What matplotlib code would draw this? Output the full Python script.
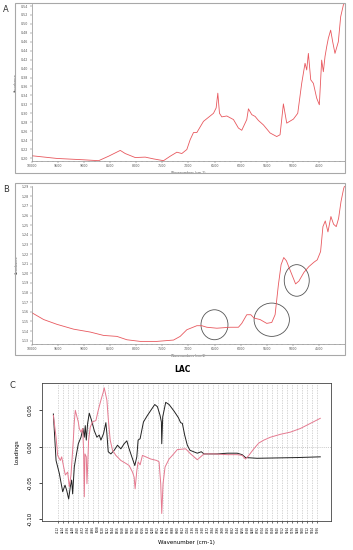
import matplotlib.pyplot as plt
import numpy as np
from matplotlib.patches import Rectangle, Ellipse

# Panel A spectrum (wavenumber, absorbance)
wn_a = [10000, 9521, 9011, 8723, 8532, 8308, 8213, 8021, 7830, 7670, 7479, 7351,
        7223, 7128, 7032, 6968, 6904, 6840, 6713, 6521, 6470, 6438, 6406, 6362,
        6266, 6138, 6043, 5979, 5915, 5883, 5851, 5787, 5723, 5660, 5564, 5436,
        5309, 5245, 5181, 5117, 4989, 4906, 4830, 4766, 4734, 4702, 4657, 4606,
        4543, 4492, 4447, 4415, 4383, 4351, 4319, 4275, 4236, 4192, 4128, 4083,
        4032, 4000]
abs_a = [0.205, 0.199, 0.196, 0.194, 0.204, 0.217, 0.210, 0.201, 0.202, 0.198, 0.194, 0.204,
         0.213, 0.210, 0.219, 0.241, 0.257, 0.257, 0.282, 0.300, 0.312, 0.345, 0.300, 0.292,
         0.294, 0.286, 0.267, 0.262, 0.278, 0.286, 0.310, 0.297, 0.293, 0.284, 0.274, 0.256,
         0.248, 0.252, 0.321, 0.278, 0.287, 0.300, 0.367, 0.412, 0.397, 0.434, 0.375, 0.367,
         0.334, 0.319, 0.419, 0.393, 0.427, 0.449, 0.468, 0.486, 0.460, 0.434, 0.460, 0.516,
         0.542, 0.550]

# Panel B spectrum
wn_b = [10000, 9777, 9521, 9202, 8883, 8628, 8372, 8181, 7926, 7607, 7287, 7160,
        7032, 6840, 6745, 6649, 6457, 6202, 6043, 5979, 5883, 5806, 5743, 5628,
        5500, 5404, 5340, 5277, 5225, 5174, 5123, 5043, 4947, 4883, 4787, 4692,
        4596, 4532, 4468, 4423, 4378, 4327, 4270, 4219, 4168, 4123, 4077, 4026, 4000]
abs_b = [1.159, 1.152, 1.147, 1.142, 1.139, 1.1355, 1.1345, 1.131, 1.1293, 1.1293, 1.1307, 1.1345,
         1.1414, 1.1456, 1.1456, 1.144, 1.143, 1.144, 1.144, 1.148, 1.157, 1.157, 1.1535, 1.152,
         1.148, 1.149, 1.157, 1.188, 1.209, 1.2164, 1.213, 1.202, 1.189, 1.192, 1.201, 1.207,
         1.2115, 1.214, 1.2226, 1.2485, 1.2544, 1.243, 1.259, 1.251, 1.2485, 1.257, 1.2744, 1.288, 1.292]

# Circled regions in panel B (centre wn, centre abs, width, height)
circ_x = [6502, 5404, 4925]
circ_y = [1.1466, 1.1518, 1.1926]
circ_w = [517, 677, 479]
circ_h = [0.0311, 0.0346, 0.0328]

# Panel C loadings
wn_black = [4015, 4075, 4149, 4224, 4276, 4313, 4358, 4395, 4425, 4447, 4484, 4522,
            4574, 4634, 4678, 4708, 4730, 4753, 4783, 4820, 4872, 4932, 4991, 5043,
            5081, 5140, 5192, 5215, 5245, 5304, 5379, 5453, 5528, 5602, 5662, 5714,
            5774, 5841, 5886, 5915, 5960, 6035, 6124, 6288, 6348, 6407, 6437, 6445,
            6467, 6534, 6609, 6720, 6817, 6869, 6907, 6959, 7018, 7078, 7242, 7332,
            7391, 7689, 7913, 8136, 8248, 8323, 8584, 9478, 10000]
load_black = [0.045, -0.019, -0.037, -0.062, -0.053, -0.060, -0.072, -0.055, -0.046, -0.065, -0.028, -0.014,
              0.004, 0.013, 0.025, 0.013, 0.029, 0.009, 0.032, 0.046, 0.036, 0.022, 0.013, 0.016,
              0.009, 0.018, 0.033, 0.018, -0.007, -0.010, -0.005, 0.002, -0.003, 0.004, 0.008, -0.003,
              -0.014, -0.026, -0.014, 0.009, 0.011, 0.034, 0.043, 0.058, 0.055, 0.043, 0.034, 0.004,
              0.041, 0.061, 0.058, 0.049, 0.040, 0.033, 0.032, 0.016, 0.002, -0.005, -0.009, -0.007,
              -0.010, -0.010, -0.009, -0.009, -0.011, -0.015, -0.016, -0.015, -0.014]
wn_pink = [4015, 4075, 4112, 4171, 4201, 4246, 4283, 4335, 4373, 4410, 4432, 4462,
           4484, 4507, 4544, 4574, 4596, 4634, 4671, 4693, 4708, 4723, 4753, 4768,
           4783, 4805, 4842, 4894, 4969, 5021, 5081, 5133, 5155, 5215, 5245, 5289,
           5342, 5416, 5528, 5640, 5714, 5789, 5826, 5848, 5886, 5915, 5960, 6012,
           6087, 6199, 6333, 6385, 6422, 6445, 6474, 6519, 6609, 6683, 6795, 6981,
           7093, 7168, 7242, 7317, 7391, 7615, 7913, 8136, 8248, 8323, 8397, 8509,
           8621, 8733, 8882, 9106, 9329, 9553, 9777, 10000]
load_pink = [0.043, 0.013, -0.012, -0.019, -0.014, -0.028, -0.039, -0.035, -0.055, -0.039, -0.019, 0.009,
             0.034, 0.050, 0.041, 0.034, 0.025, 0.020, 0.025, -0.005, -0.069, -0.010, -0.014, -0.051,
             -0.028, 0.009, 0.027, 0.034, 0.036, 0.050, 0.064, 0.075, 0.081, 0.064, 0.039, 0.009,
             -0.005, -0.012, -0.019, -0.023, -0.026, -0.035, -0.042, -0.058, -0.033, -0.021, -0.025, -0.012,
             -0.014, -0.017, -0.019, -0.021, -0.051, -0.092, -0.051, -0.028, -0.017, -0.012, -0.004, -0.003,
             -0.010, -0.014, -0.018, -0.014, -0.010, -0.010, -0.011, -0.011, -0.012, -0.017, -0.012, -0.003,
             0.005, 0.009, 0.013, 0.017, 0.020, 0.025, 0.032, 0.039]

spec_xticks = [10000, 9500, 9000, 8500, 8000, 7500, 7000, 6500, 6000, 5500, 5000, 4500]
a_yticks = [0.20, 0.22, 0.24, 0.26, 0.28, 0.30, 0.32, 0.34, 0.36, 0.38, 0.40,
            0.42, 0.44, 0.46, 0.48, 0.50, 0.52, 0.54]
b_yticks = [1.13, 1.14, 1.15, 1.16, 1.17, 1.18, 1.19, 1.20, 1.21, 1.22, 1.23,
            1.24, 1.25, 1.26, 1.27, 1.28, 1.29]
c_yticks = [-0.10, -0.05, 0.00, 0.05]
c_xticks = list(range(4112, 9937, 112))

W, H = 353, 550
fig = plt.figure(figsize=(W / 100, H / 100), dpi=100)
red = '#e8585e'


def fx(px):
    return px / W


def fy(py):
    return 1 - py / H


def spectrum_panel(top, bottom, frame_top, frame_bottom, wn, ab, yticks, ylim, letter):
    fig.add_artist(Rectangle((fx(15), fy(frame_bottom)), fx(330), (frame_bottom - frame_top) / H,
                             transform=fig.transFigure, fill=False, ec='#a8a8a8', lw=0.8))
    ax = fig.add_axes([fx(32), fy(bottom), fx(313), (bottom - top) / H])
    ax.plot(wn, ab, color=red, lw=0.6)
    ax.set_xlim(10000, 4000)
    ax.set_ylim(*ylim)
    ax.set_xticks(spec_xticks)
    ax.set_xticklabels([str(t) for t in spec_xticks])
    ax.set_xticks(np.arange(4000, 10001, 100), minor=True)
    ax.set_yticks(yticks)
    ax.set_yticklabels(['%.2f' % t for t in yticks])
    ax.tick_params(labelsize=2.3, colors='#555555', length=1.5, width=0.3, pad=1)
    ax.tick_params(which='minor', length=0.8, width=0.3, colors='#777777')
    for s in ['top', 'right']:
        ax.spines[s].set_visible(False)
    for s in ['left', 'bottom']:
        ax.spines[s].set_color('#909090')
        ax.spines[s].set_linewidth(0.5)
    ax.set_ylabel('Absorbance', fontsize=2.3, color='#555555', labelpad=2)
    ax.set_xlabel('Wavenumbers (cm-1)', fontsize=2.3, color='#555555', labelpad=1.5)
    fig.text(fx(3), fy(frame_top + 7), letter, fontsize=6, color='#333333', va='center')
    return ax


ax_a = spectrum_panel(4, 161, 3, 173, wn_a, abs_a, a_yticks, (0.1933, 0.5445), 'A')
ax_b = spectrum_panel(185.5, 344, 183, 355, wn_b, abs_b, b_yticks, (1.1266, 1.2912), 'B')
for cx, cy, w, h in zip(circ_x, circ_y, circ_w, circ_h):
    ax_b.add_patch(Ellipse((cx, cy), w, h, fill=False, ec='#555555', lw=0.6))

# Panel C
fig.text(fx(182), fy(369), 'LAC', fontsize=5.5, fontweight='bold', ha='center', va='center')
fig.text(fx(9), fy(385), 'C', fontsize=6, color='#333333', va='center')
ax_c = fig.add_axes([fx(42), fy(521), fx(289), 138 / H])
for t in c_xticks:
    ax_c.axvline(t, color='#b8b8b8', lw=0.4, ls=(0, (2.5, 2)))
ax_c.axhline(0, color='#b8b8b8', lw=0.5, ls=(0, (1.5, 1.5)))
ax_c.plot(wn_black, load_black, color='#222222', lw=0.7)
ax_c.plot(wn_pink, load_pink, color='#e57a90', lw=0.7)
ax_c.set_xlim(3760, 10240)
ax_c.set_ylim(-0.1023, 0.0876)
ax_c.set_yticks(c_yticks)
ax_c.set_yticklabels(['%.2f' % t for t in c_yticks], rotation=90, va='center')
ax_c.set_xticks(c_xticks)
ax_c.set_xticklabels([str(t) for t in c_xticks], rotation=90)
ax_c.tick_params(axis='y', labelsize=4, length=2.5, width=0.5, pad=4)
ax_c.tick_params(axis='x', labelsize=2, length=1.5, width=0.4, pad=2)
for s in ax_c.spines.values():
    s.set_linewidth(0.6)
    s.set_color('#444444')
ax_c.set_ylabel('Loadings', fontsize=4, labelpad=6)
ax_c.set_xlabel('Wavenumber (cm-1)', fontsize=4, labelpad=5)

fig.savefig('out.png', dpi=100)
